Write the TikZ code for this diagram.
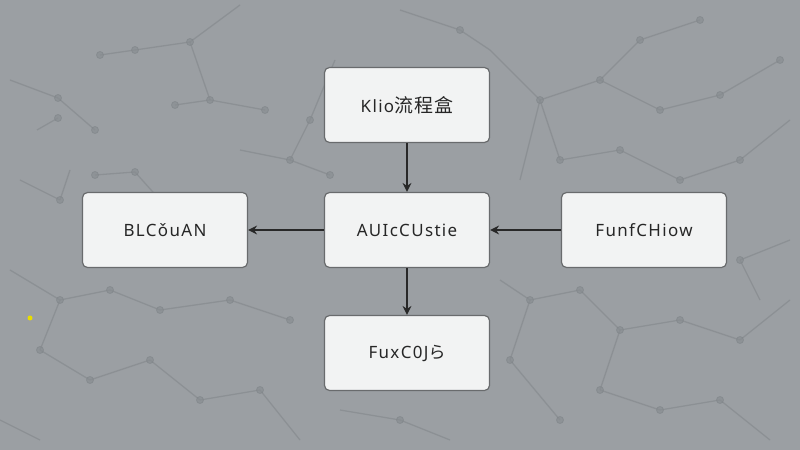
\documentclass[tikz,border=0pt]{standalone}
\usepackage{fontspec}
\setmainfont{Noto Sans}[LetterSpace=8]
\newfontfamily\cjk{Noto Sans CJK SC}[LetterSpace=6]
\usetikzlibrary{arrows.meta}
\definecolor{bgc}{RGB}{155,159,163}
\definecolor{netc}{RGB}{128,133,137}
\definecolor{boxfill}{RGB}{242,243,243}
\definecolor{boxline}{RGB}{105,107,109}
\definecolor{arrc}{RGB}{40,40,40}
\tikzset{
  flowbox/.style={draw=boxline, line width=1.2bp, fill=boxfill, rounded corners=5bp,
    minimum width=165bp, minimum height=75bp, inner sep=0pt, font=\fontsize{17}{20}\selectfont, text=black!85},
  flowarrow/.style={draw=arrc, line width=1.8bp, -{Stealth[length=9bp,width=9bp,inset=3bp]}},
  netline/.style={draw=netc, line width=1.3bp, opacity=0.55},
  netdot/.style={draw=netc, fill=netc!70!bgc, line width=0.8bp, opacity=0.65}
}
\begin{document}
\begin{tikzpicture}[x=1bp,y=-1bp]
\fill[bgc] (0,0) rectangle (800,450);
\useasboundingbox (0,0) rectangle (800,450);
% faint background network
\foreach \a/\b in {
  {135,50}/{190,42}, {135,50}/{100,55}, {190,42}/{210,100}, {210,100}/{265,110}, {210,100}/{175,105},
  {190,42}/{240,5}, {58,98}/{10,80}, {58,98}/{95,130}, {58,118}/{37,130}, {95,175}/{135,172},
  {135,172}/{160,200}, {240,150}/{290,160}, {290,160}/{310,120}, {310,120}/{335,60},
  {290,160}/{330,175}, {490,50}/{540,100}, {540,100}/{600,80}, {600,80}/{640,40}, {640,40}/{700,20},
  {540,100}/{560,160}, {560,160}/{620,150}, {620,150}/{680,180}, {680,180}/{740,160}, {740,160}/{790,120},
  {600,80}/{660,110}, {660,110}/{720,95}, {720,95}/{780,60}, {10,270}/{60,300}, {60,300}/{110,290},
  {60,300}/{40,350}, {40,350}/{90,380}, {90,380}/{150,360}, {150,360}/{200,400}, {200,400}/{260,390},
  {110,290}/{160,310}, {160,310}/{230,300}, {230,300}/{290,320}, {260,390}/{300,440},
  {530,300}/{580,290}, {580,290}/{620,330}, {620,330}/{680,320}, {680,320}/{740,340}, {740,340}/{790,300},
  {620,330}/{600,390}, {600,390}/{660,410}, {660,410}/{720,400}, {720,400}/{770,440}, {530,300}/{510,360},
  {510,360}/{560,420}, {20,180}/{60,200}, {60,200}/{70,170}, {740,260}/{790,240}, {740,260}/{760,300},
  {0,420}/{40,440}, {400,10}/{460,30}, {460,30}/{490,50}, {520,180}/{540,100}, {500,280}/{530,300},
  {400,420}/{450,440}, {340,410}/{400,420}}
  {\draw[netline] (\a) -- (\b);}
\foreach \p in {{135,50},{190,42},{100,55},{210,100},{265,110},{175,105},{58,98},{95,130},{58,118},
  {95,175},{135,172},{290,160},{310,120},{330,175},{540,100},{600,80},{640,40},{700,20},{560,160},
  {620,150},{680,180},{740,160},{660,110},{720,95},{780,60},{60,300},{110,290},{40,350},{90,380},
  {150,360},{200,400},{260,390},{160,310},{230,300},{290,320},{580,290},{620,330},{680,320},{740,340},
  {600,390},{660,410},{720,400},{530,300},{510,360},{560,420},{60,200},{740,260},{460,30},{400,420}}
  {\draw[netdot] (\p) circle (3.5bp);}
\fill[yellow!80!olive] (30,318) circle (2.5bp);
% boxes
\node[flowbox] (top) at (407,105) {Klio{\cjk\fontsize{19}{22}\selectfont 流程盒}};
\node[flowbox] (mid) at (407,230) {AUIcCUstie};
\node[flowbox] (left) at (165,230) {BLCǒuAN};
\node[flowbox] (right) at (644,230) {FunfCHiow};
\node[flowbox] (bot) at (407,353) {FuxC0J{\cjk ら}};
% arrows
\draw[flowarrow] (top) -- (mid);
\draw[flowarrow] (mid) -- (left);
\draw[flowarrow] (right) -- (mid);
\draw[flowarrow] (mid) -- (bot);
\end{tikzpicture}
\end{document}
